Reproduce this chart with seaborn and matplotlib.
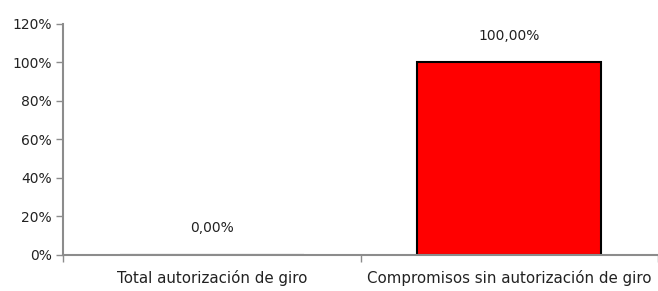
import matplotlib
matplotlib.use("Agg")
import matplotlib.pyplot as plt
import seaborn as sns
import pandas as pd
from matplotlib.ticker import FixedLocator, PercentFormatter

categories = ["Total autorización de giro", "Compromisos sin autorización de giro"]
values = [0.0, 100.0]
labels = ["0,00%", "100,00%"]

sns.set_style("white")
plt.rcParams["font.family"] = ["DejaVu Sans"]

df = pd.DataFrame({"cat": categories, "val": values})

fig = plt.figure(figsize=(6.58, 2.91), dpi=100)
ax = fig.add_axes([0.096, 0.124, 0.904, 0.794])

sns.barplot(data=df, x="cat", y="val", color="#ff0000", edgecolor="black",
            linewidth=1.5, width=0.62, saturation=1, ax=ax)

for i, (v, t) in enumerate(zip(values, labels)):
    ax.annotate(t, (i, v), xytext=(0, 14), textcoords="offset points",
                ha="center", va="bottom", fontsize=10, color="#222222")

ax.set_ylim(0, 120)
ax.set_xlim(-0.5, 1.5)
ax.set_yticks(range(0, 121, 20))
ax.yaxis.set_major_formatter(PercentFormatter(decimals=0))
ax.set_xlabel("")
ax.set_ylabel("")

for s in ["top", "right"]:
    ax.spines[s].set_visible(False)
for s in ["left", "bottom"]:
    ax.spines[s].set_color("#8c8c8c")
    ax.spines[s].set_linewidth(1.5)

ax.tick_params(axis="y", which="major", left=True, length=5, color="#8c8c8c",
               width=1, labelsize=10, labelcolor="#222222", pad=3)
ax.tick_params(axis="x", which="major", length=0, labelsize=10.8,
               labelcolor="#222222", pad=11)
ax.xaxis.set_minor_locator(FixedLocator([-0.5, 0.5, 1.5]))
ax.tick_params(axis="x", which="minor", bottom=True, length=5, color="#8c8c8c", width=1)

fig.savefig("out.png", dpi=100)
